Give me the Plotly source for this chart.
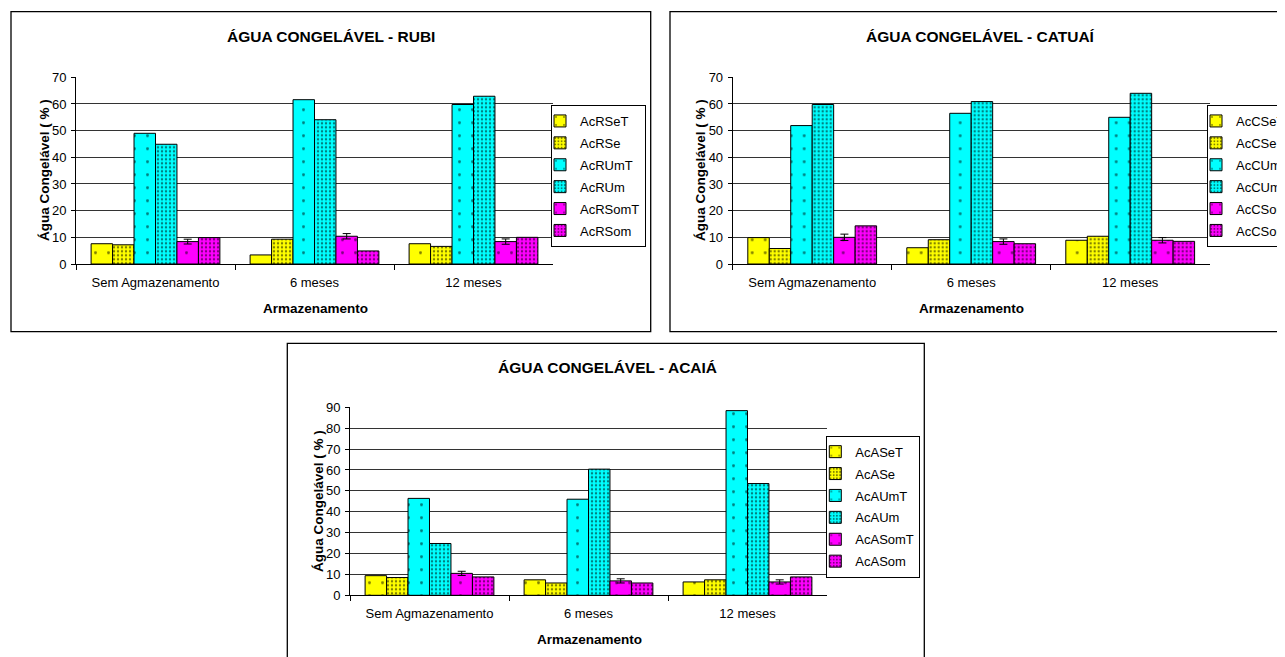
import plotly.graph_objects as go

W, H = 1285, 657
OFF = 8  # page body margin offset
FW, FH = W - OFF, H - OFF

categories = ["Sem Agmazenamento", "6 meses", "12 meses"]

# RUBI
rubi_names = ["AcRSeT", "AcRSe", "AcRUmT", "AcRUm", "AcRSomT", "AcRSom"]
rubi_SeT = [7.6, 3.4, 7.6]
rubi_Se = [7.2, 9.3, 6.6]
rubi_UmT = [49.0, 61.6, 59.8]
rubi_Um = [44.9, 54.1, 62.9]
rubi_SomT = [8.4, 10.4, 8.4]
rubi_Som = [9.9, 4.9, 10.0]
rubi_SomT_err = [0.9, 1.0, 1.0]

# CATUAÍ
catuai_names = ["AcCSeT", "AcCSe", "AcCUmT", "AcCUm", "AcCSomT", "AcCSom"]
catuai_SeT = [9.9, 6.1, 8.9]
catuai_Se = [5.8, 9.1, 10.4]
catuai_UmT = [51.9, 56.5, 55.0]
catuai_Um = [59.8, 60.9, 64.0]
catuai_SomT = [10.0, 8.4, 8.9]
catuai_Som = [14.3, 7.6, 8.5]
catuai_SomT_err = [1.2, 1.0, 1.0]

# ACAIÁ
acaia_names = ["AcASeT", "AcASe", "AcAUmT", "AcAUm", "AcASomT", "AcASom"]
acaia_SeT = [9.4, 7.4, 6.4]
acaia_Se = [8.5, 5.9, 7.4]
acaia_UmT = [46.4, 46.0, 88.4]
acaia_Um = [24.8, 60.4, 53.5]
acaia_SomT = [10.5, 6.9, 6.4]
acaia_Som = [8.8, 5.9, 8.8]
acaia_SomT_err = [1.0, 1.0, 1.0]

titles = ["ÁGUA CONGELÁVEL - RUBI", "ÁGUA CONGELÁVEL - CATUAÍ", "ÁGUA CONGELÁVEL - ACAIÁ"]
y_title = "Água Congelável ( % )"
x_title = "Armazenamento"

FONT = "Arial, Liberation Sans, sans-serif"
colors = ["#FFFF00", "#FFFF00", "#00FFFF", "#00FFFF", "#FF00FF", "#FF00FF"]
sparse = dict(shape=".", size=13, solidity=0.04, fgcolor="#000000")
dense = dict(shape=".", size=4, solidity=0.28, fgcolor="#000000")


def px(x):
    return (x - OFF) / FW


def py(y):
    return 1 - (y - OFF) / FH


fig = go.Figure()

charts = [
    (rubi_names, [rubi_SeT, rubi_Se, rubi_UmT, rubi_Um, rubi_SomT, rubi_Som], rubi_SomT_err, ""),
    (catuai_names, [catuai_SeT, catuai_Se, catuai_UmT, catuai_Um, catuai_SomT, catuai_Som], catuai_SomT_err, "2"),
    (acaia_names, [acaia_SeT, acaia_Se, acaia_UmT, acaia_Um, acaia_SomT, acaia_Som], acaia_SomT_err, "3"),
]

for ci, (names, series, err, ax) in enumerate(charts):
    for i, (nm, vals) in enumerate(zip(names, series)):
        pat = dict(sparse if i % 2 == 0 else dense)
        pat["bgcolor"] = colors[i]
        kw = {}
        if i == 4:
            kw["error_y"] = dict(type="data", array=err, visible=True, color="#000000", thickness=1, width=4)
        fig.add_trace(go.Bar(
            x=categories, y=vals, name=nm,
            xaxis="x" + ax, yaxis="y" + ax, legend="legend" + ax,
            legendgroup=f"g{ci}_{i}",
            marker=dict(color=colors[i], line=dict(color="#000000", width=1), pattern=pat),
            **kw,
        ))

# geometry (reference pixels)
plots = [
    dict(x0=76, x1=553, y0=77.3, y1=264, ymax=70),
    dict(x0=732.7, x1=1209.7, y0=77.3, y1=264, ymax=70),
    dict(x0=350, x1=827, y0=407.3, y1=595.3, ymax=90),
]

layout = dict(
    width=FW, height=FH,
    margin=dict(l=0, r=0, t=0, b=0, autoexpand=False),
    paper_bgcolor="white", plot_bgcolor="white",
    barmode="group", bargap=0.19, bargroupgap=0,
    font=dict(family=FONT, size=13, color="#000000"),
    showlegend=True,
)

for k, p in enumerate(plots):
    sfx = "" if k == 0 else str(k + 1)
    layout["xaxis" + sfx] = dict(
        domain=[px(p["x0"]), px(p["x1"])],
        anchor="y" + sfx,
        type="category",
        showline=True, linecolor="#000000", linewidth=1,
        ticks="outside", tickson="boundaries", ticklen=5, tickcolor="#000000",
        showgrid=False, tickfont=dict(size=13, family=FONT),
        ticklabelstandoff=6,
        fixedrange=True,
    )
    layout["yaxis" + sfx] = dict(
        domain=[py(p["y1"]), py(p["y0"])],
        anchor="x" + sfx,
        range=[0, p["ymax"]], dtick=10,
        showline=True, linecolor="#000000", linewidth=1,
        ticks="outside", ticklen=4, tickcolor="#000000",
        showgrid=True, gridcolor="#333333", gridwidth=1,
        zeroline=False, tickfont=dict(size=13, family=FONT),
        ticklabelstandoff=2,
        fixedrange=True,
    )

# legends: (x, anchor, top y)
legend_pos = [(646, "right", 105), (1207, "left", 105), (920.3, "right", 435.7)]
for k, (lx, anc, ly) in enumerate(legend_pos):
    key = "legend" if k == 0 else "legend" + str(k + 1)
    layout[key] = dict(
        x=px(lx), y=py(ly), xanchor=anc, yanchor="top",
        xref="paper", yref="paper",
        bordercolor="#000000", borderwidth=1, bgcolor="white",
        font=dict(size=13, family=FONT), tracegroupgap=2,
        indentation=-12,
        itemclick=False, itemdoubleclick=False,
    )

fig.update_layout(**layout)

# chart borders
borders = [
    (11, 11.7, 650.7, 331.7),
    (670, 11.7, 1300, 331.7),
    (287.3, 343.3, 924.3, 670),
]
for (x0, y0, x1, y1) in borders:
    fig.add_shape(type="rect", xref="paper", yref="paper",
                  x0=px(x0), x1=px(x1), y0=py(y1), y1=py(y0),
                  line=dict(color="#000000", width=1.3), fillcolor="rgba(0,0,0,0)", layer="above")

# titles and axis titles
title_pos = [(331, 36), (980, 36), (607, 367)]
ytitle_pos = [(44, 170), (700, 170), (318, 501)]
xtitle_pos = [(315, 308), (971, 308), (589, 639)]
for k in range(3):
    tx, ty = title_pos[k]
    fig.add_annotation(text="<b>" + titles[k] + "</b>", x=px(tx), y=py(ty), xref="paper", yref="paper",
                       showarrow=False, font=dict(size=15.5, family=FONT), xanchor="center", yanchor="middle")
    yx, yy = ytitle_pos[k]
    fig.add_annotation(text="<b>" + y_title + "</b>", x=px(yx), y=py(yy), xref="paper", yref="paper",
                       showarrow=False, textangle=-90, font=dict(size=13.5, family=FONT),
                       xanchor="center", yanchor="middle")
    xx, xy = xtitle_pos[k]
    fig.add_annotation(text="<b>" + x_title + "</b>", x=px(xx), y=py(xy), xref="paper", yref="paper",
                       showarrow=False, font=dict(size=13.5, family=FONT), xanchor="center", yanchor="middle")

fig.write_html("out.html")
